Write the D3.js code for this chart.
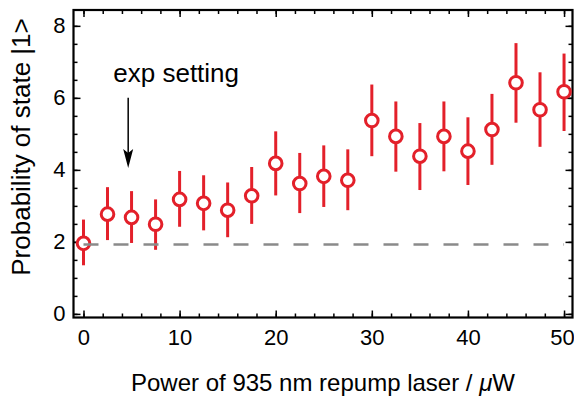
<!DOCTYPE html>
<html>
  <head>
    <meta charset="utf-8" />
    <script src="https://d3js.org/d3.v7.min.js"></script>
    <style>
      body {
        margin: 0;
        background: #fff;
      }
      svg {
        font-family: "Liberation Sans", Arial, sans-serif;
      }
      .tick text {
        font-size: 22px;
        fill: #000;
      }
      .tick line {
        stroke: #000;
        stroke-width: 1.5;
      }
    </style>
  </head>
  <body>
    <div id="chart"></div>
    <script>
      // data
      const power = [0, 2.5, 5, 7.5, 10, 12.5, 15, 17.5, 20, 22.5, 25, 27.5, 30, 32.5, 35, 37.5, 40, 42.5, 45, 47.5, 50];
      const prob = [1.96, 2.77, 2.68, 2.49, 3.18, 3.07, 2.88, 3.28, 4.18, 3.62, 3.82, 3.71, 5.37, 4.93, 4.38, 4.93, 4.52, 5.12, 6.42, 5.67, 6.17];
      const errLow = [1.35, 2.05, 1.97, 1.78, 2.42, 2.32, 2.13, 2.5, 3.29, 2.8, 2.97, 2.88, 4.38, 3.95, 3.44, 3.96, 3.58, 4.14, 5.31, 4.64, 5.08];
      const errHigh = [2.62, 3.52, 3.41, 3.18, 3.97, 3.85, 3.65, 4.08, 5.07, 4.47, 4.68, 4.57, 6.37, 5.9, 5.3, 5.9, 5.46, 6.11, 7.52, 6.71, 7.23];
      const baseline = 1.93;
      const baselineRange = [0, 50];
      const xTicks = [0, 10, 20, 30, 40, 50];
      const yTicks = [0, 2, 4, 6, 8];
      const xMinor = d3.range(0, 51, 2);
      const yMinor = d3.range(0, 8.01, 0.5);
      const annotation = { text: "exp setting", x: 3.1, y: 6.45, arrowX: 4.65, arrowFrom: 6.0, arrowTo: 4.05 };

      const width = 574;
      const height = 398;
      const margin = { top: 10, right: 1.5, bottom: 80.5, left: 73.5 };

      const x = d3.scaleLinear().domain([-1.04, 50.88]).range([margin.left, width - margin.right]);
      const y = d3.scaleLinear().domain([-0.1, 8.44]).range([height - margin.bottom, margin.top]);

      const svg = d3.select("#chart").append("svg").attr("width", width).attr("height", height);

      const red = "#e3202a";

      //minor ticks on all four sides
      [[d3.axisBottom(x), height - margin.bottom], [d3.axisTop(x), margin.top]].forEach(([ax, ty]) => {
        svg.append("g").attr("transform", `translate(0,${ty})`).call(ax.tickValues(xMinor).tickSize(-4).tickFormat("")).call((g) => g.select(".domain").remove());
      });
      [[d3.axisLeft(y), margin.left], [d3.axisRight(y), width - margin.right]].forEach(([ax, tx]) => {
        svg.append("g").attr("transform", `translate(${tx},0)`).call(ax.tickValues(yMinor).tickSize(-4).tickFormat("")).call((g) => g.select(".domain").remove());
      });

      //major ticks
      const xAxisG = svg.append("g")
        .attr("transform", `translate(0,${height - margin.bottom})`)
        .call(d3.axisBottom(x).tickValues(xTicks).tickSize(-7).tickPadding(12))
        .call((g) => g.select(".domain").remove());
      // last label sits on the window edge, nudge it in
      xAxisG.selectAll(".tick text").filter((d) => d === 50).attr("dx", -2);
      svg.append("g")
        .attr("transform", `translate(0,${margin.top})`)
        .call(d3.axisTop(x).tickValues(xTicks).tickSize(-7).tickFormat(""))
        .call((g) => g.select(".domain").remove());
      svg.append("g")
        .attr("transform", `translate(${margin.left},0)`)
        .call(d3.axisLeft(y).tickValues(yTicks).tickSize(-7).tickPadding(8))
        .call((g) => g.select(".domain").remove());
      svg.append("g")
        .attr("transform", `translate(${width - margin.right},0)`)
        .call(d3.axisRight(y).tickValues(yTicks).tickSize(-7).tickFormat(""))
        .call((g) => g.select(".domain").remove());

      svg.selectAll(".tick text").attr("font-family", null).attr("font-size", null);

      //frame
      svg.append("rect")
        .attr("x", margin.left)
        .attr("y", margin.top)
        .attr("width", width - margin.left - margin.right)
        .attr("height", height - margin.top - margin.bottom)
        .attr("fill", "none")
        .attr("stroke", "#000")
        .attr("stroke-width", 2.2);

      const data = power.map((p, i) => ({ p, v: prob[i], lo: errLow[i], hi: errHigh[i] }));

      //error bars
      svg.selectAll(".err")
        .data(data)
        .join("line")
        .attr("class", "err")
        .attr("x1", (d) => x(d.p))
        .attr("x2", (d) => x(d.p))
        .attr("y1", (d) => y(d.lo))
        .attr("y2", (d) => y(d.hi))
        .attr("stroke", red)
        .attr("stroke-width", 3);

      svg.selectAll(".dot")
        .data(data)
        .join("circle")
        .attr("class", "dot")
        .attr("cx", (d) => x(d.p))
        .attr("cy", (d) => y(d.v))
        .attr("r", 6.3)
        .attr("fill", "#fff")
        .attr("stroke", red)
        .attr("stroke-width", 3);

      //dashed reference line
      svg.append("line")
        .attr("x1", x(baselineRange[0]))
        .attr("x2", x(baselineRange[1]))
        .attr("y1", y(baseline))
        .attr("y2", y(baseline))
        .attr("stroke", "#8a8a8a")
        .attr("stroke-width", 2.5)
        .attr("stroke-dasharray", "15,15");

      //annotation arrow
      const ax0 = x(annotation.arrowX);
      const tip = y(annotation.arrowTo);
      svg.append("line")
        .attr("x1", ax0)
        .attr("x2", ax0)
        .attr("y1", y(annotation.arrowFrom))
        .attr("y2", tip - 4)
        .attr("stroke", "#000")
        .attr("stroke-width", 1.5);
      svg.append("path")
        .attr("d", `M${ax0 - 5},${tip - 19} L${ax0},${tip - 15} L${ax0 + 5},${tip - 19} L${ax0},${tip} Z`)
        .attr("fill", "#000");

      svg.append("text")
        .attr("x", x(annotation.x))
        .attr("y", y(annotation.y))
        .attr("font-size", "26px")
        .text(annotation.text);

      //axis titles
      const xt = svg.append("text")
        .attr("x", (margin.left + width - margin.right) / 2)
        .attr("y", 391)
        .attr("text-anchor", "middle")
        .attr("font-size", "24px");
      xt.append("tspan").text("Power of 935 nm repump laser / ");
      xt.append("tspan").attr("font-style", "italic").text("μ");
      xt.append("tspan").text("W");

      svg.append("text")
        .attr("transform", `translate(30,147) rotate(-90)`)
        .attr("text-anchor", "middle")
        .attr("font-size", "26px")
        .text("Probability of state |1>");
    </script>
  </body>
</html>
